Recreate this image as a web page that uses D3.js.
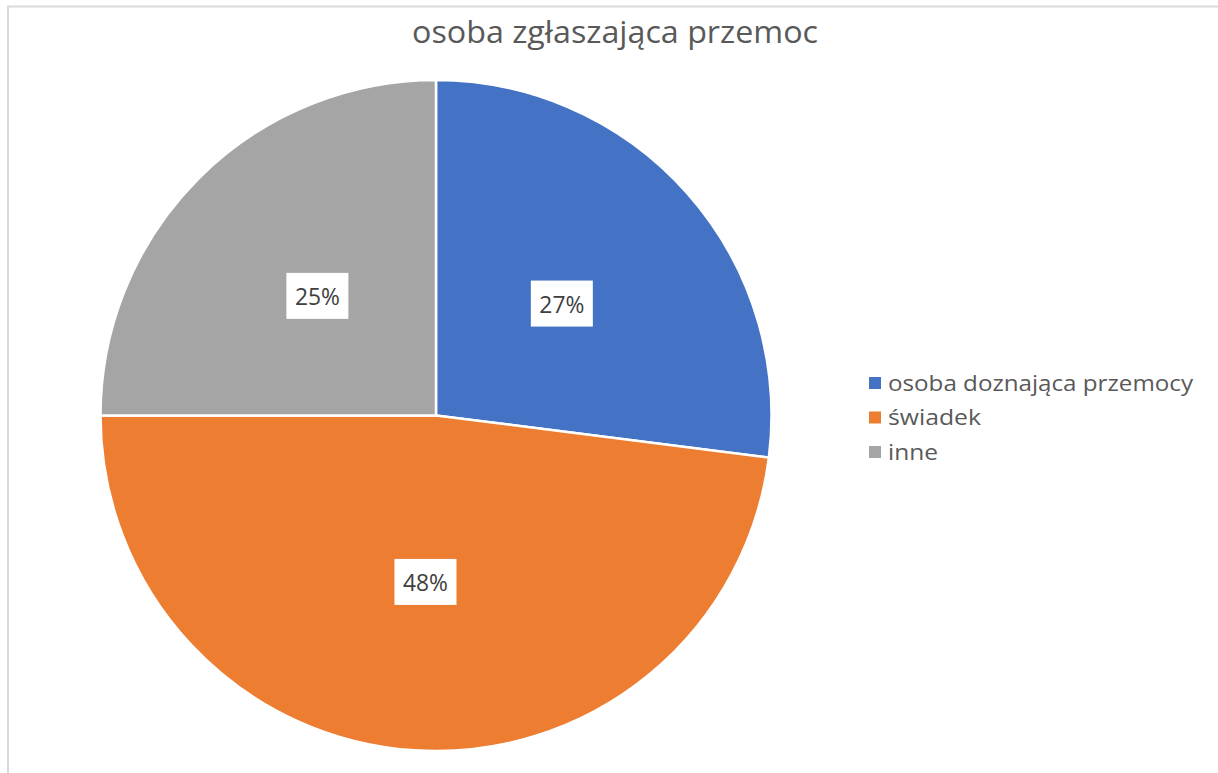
<!DOCTYPE html>
<html><head><meta charset="utf-8">
<script src="https://cdn.jsdelivr.net/npm/d3@7"></script>
<style>html,body{margin:0;padding:0;background:#fff;overflow:hidden}</style>
</head><body>
<svg id="c" width="1218" height="773"></svg>
<script>
const title = "osoba zgłaszająca przemoc";
const categories = ["osoba doznająca przemocy", "świadek", "inne"];
const values = [27, 48, 25];
const colors = ["#4472C4", "#ED7D31", "#A5A5A5"];

const svg = d3.select("#c");
const font = "'Open Sans', 'Noto Sans', sans-serif";

svg.append("rect").attr("x", 8).attr("y", 6.5).attr("width", 1400).attr("height", 1000)
  .attr("fill", "#fff").attr("stroke", "#d9d9d9").attr("stroke-width", 2);

svg.append("text").attr("x", 615).attr("y", 43).attr("text-anchor", "middle")
  .attr("font-family", font).attr("font-size", 31).attr("fill", "#595959")
  .attr("textLength", 406).attr("lengthAdjust", "spacingAndGlyphs").text(title);

const cx = 436, cy = 415.5, R = 335.5;
const pie = d3.pie().sort(null).value(d => d)(values);
const arc = d3.arc().innerRadius(0).outerRadius(R);
const g = svg.append("g").attr("transform", `translate(${cx},${cy})`);
g.selectAll("path").data(pie).join("path")
  .attr("d", arc).attr("fill", (d, i) => colors[i])
  .attr("stroke", "#fff").attr("stroke-width", 2.5);

const total = d3.sum(values);
const lbl = g.selectAll("g.lbl").data(pie).join("g").attr("class", "lbl")
  .attr("transform", d => `translate(${arc.centroid(d)})`);
lbl.append("rect").attr("x", -31).attr("y", -24).attr("width", 62).attr("height", 46).attr("fill", "#fff");
lbl.append("text").attr("text-anchor", "middle").attr("dy", "0.35em")
  .attr("font-family", font).attr("font-size", 24).attr("fill", "#404040")
  .attr("textLength", 45).attr("lengthAdjust", "spacingAndGlyphs")
  .text(d => Math.round(d.data / total * 100) + "%");

const legendX = 869, legendY = 383, step = 34.5;
const widths = [305, 93, 50];
const lg = svg.selectAll("g.leg").data(categories).join("g").attr("class", "leg")
  .attr("transform", (d, i) => `translate(${legendX},${legendY + i * step})`);
lg.append("rect").attr("x", 0).attr("y", -6).attr("width", 12).attr("height", 12)
  .attr("fill", (d, i) => colors[i]);
lg.append("text").attr("x", 19).attr("dy", "0.35em")
  .attr("font-family", font).attr("font-size", 22).attr("fill", "#595959")
  .attr("textLength", (d, i) => widths[i]).attr("lengthAdjust", "spacingAndGlyphs")
  .text(d => d);
</script>
</body></html>
